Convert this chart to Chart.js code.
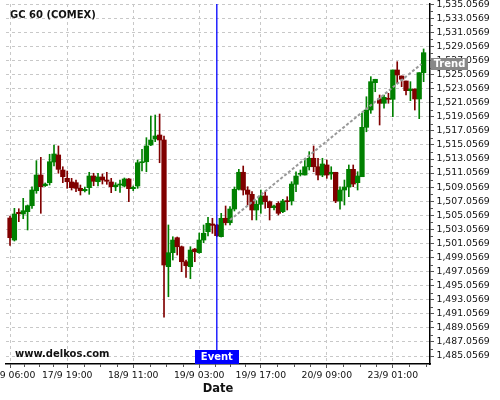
<!DOCTYPE html>
<html>
<head>
<meta charset="utf-8">
<script src="https://cdn.jsdelivr.net/npm/chart.js@4.4.0/dist/chart.umd.min.js"></script>
<style>
  body { margin: 0; background: #fff; }
  #chart { display: block; }
</style>
</head>
<body>
<canvas id="chart" width="500" height="400"></canvas>
<script>
// hourly candles, index 0 = 17/9 06:00
var open = [1504.67, 1501.54, 1505.48, 1505.24, 1505.57, 1506.42, 1508.55, 1510.78, 1509.26, 1509.69,
    1512.63, 1513.63, 1511.49, 1510.31, 1509.79, 1509.69, 1508.89, 1508.55, 1508.98, 1510.64,
    1509.83, 1510.50, 1510.07, 1509.79, 1509.12, 1509.36, 1509.22, 1510.22, 1508.84, 1509.22,
    1512.53, 1512.67, 1515.05, 1515.90, 1516.47, 1515.76, 1497.75, 1499.74, 1501.87, 1500.59,
    1498.46, 1497.75, 1500.26, 1499.74, 1501.54, 1502.72, 1503.82, 1503.68, 1502.02, 1504.63,
    1504.00, 1505.95, 1508.75, 1511.17, 1508.65, 1508.04, 1505.81, 1506.62, 1507.80, 1506.99,
    1506.14, 1506.76, 1505.57, 1507.09, 1507.09, 1509.46, 1510.88, 1510.78, 1511.96, 1513.16,
    1511.96, 1510.78, 1512.21, 1510.93, 1511.17, 1507.09, 1508.65, 1509.08, 1511.59, 1509.69,
    1510.54, 1517.56, 1520.02, 1523.91, 1521.59, 1520.98, 1521.69, 1521.54, 1525.71, 1524.86,
    1524.15, 1522.77, 1523.01, 1521.59, 1525.33];
var high = [1504.96, 1506.05, 1505.99, 1507.47, 1506.52, 1509.12, 1512.82, 1513.30, 1509.65, 1513.73,
    1515.05, 1514.91, 1511.96, 1511.35, 1510.31, 1510.07, 1509.36, 1509.07, 1511.17, 1511.03,
    1511.03, 1510.93, 1511.17, 1510.31, 1509.69, 1510.07, 1510.36, 1510.29, 1509.22, 1512.92,
    1514.44, 1516.09, 1519.17, 1519.31, 1519.45, 1516.33, 1503.68, 1502.01, 1501.97, 1500.69,
    1498.70, 1500.59, 1500.34, 1502.54, 1503.68, 1504.77, 1504.63, 1503.75, 1505.34, 1506.38,
    1506.28, 1509.08, 1511.59, 1512.06, 1509.12, 1508.41, 1507.13, 1508.65, 1508.41, 1507.09,
    1506.52, 1506.99, 1507.33, 1507.70, 1509.83, 1511.25, 1511.49, 1513.16, 1514.10, 1514.91,
    1513.16, 1513.16, 1512.92, 1511.96, 1511.17, 1509.12, 1510.07, 1512.21, 1512.21, 1511.25,
    1519.60, 1521.91, 1524.76, 1524.39, 1522.16, 1522.16, 1522.40, 1525.71, 1526.89, 1524.86,
    1524.15, 1524.05, 1523.01, 1525.33, 1528.70];
var low = [1500.76, 1501.40, 1504.15, 1504.57, 1502.97, 1506.05, 1508.18, 1505.34, 1509.15, 1509.36,
    1512.06, 1511.03, 1509.69, 1508.89, 1508.65, 1508.41, 1507.94, 1508.37, 1508.04, 1509.26,
    1509.22, 1509.50, 1509.46, 1508.27, 1508.55, 1508.32, 1509.08, 1506.99, 1508.55, 1508.89,
    1511.35, 1511.25, 1514.96, 1515.52, 1512.53, 1490.56, 1493.48, 1498.70, 1499.41, 1497.04,
    1496.24, 1496.04, 1498.46, 1499.65, 1501.16, 1502.11, 1502.49, 1502.02, 1501.97, 1503.68,
    1503.68, 1505.67, 1508.65, 1507.94, 1506.52, 1504.39, 1504.39, 1505.34, 1506.05, 1504.39,
    1505.81, 1505.10, 1505.43, 1505.81, 1506.52, 1508.41, 1510.64, 1510.78, 1511.49, 1511.25,
    1510.07, 1510.54, 1510.31, 1510.17, 1506.85, 1505.91, 1506.52, 1507.70, 1509.12, 1508.65,
    1510.54, 1516.93, 1519.55, 1522.62, 1517.89, 1520.27, 1520.98, 1519.07, 1523.82, 1523.34,
    1522.16, 1521.35, 1520.02, 1518.79, 1524.05];
var close = [1501.87, 1505.24, 1505.28, 1505.71, 1506.42, 1508.65, 1510.78, 1509.12, 1509.50, 1512.67,
    1513.77, 1511.59, 1510.54, 1509.83, 1508.98, 1508.89, 1508.55, 1508.75, 1510.64, 1509.89,
    1510.50, 1510.07, 1509.89, 1509.12, 1509.36, 1509.50, 1510.22, 1508.84, 1509.03, 1512.53,
    1512.67, 1514.91, 1515.76, 1516.33, 1515.76, 1497.99, 1499.74, 1501.54, 1500.59, 1498.46,
    1497.89, 1500.12, 1499.88, 1501.54, 1502.50, 1503.92, 1503.63, 1502.16, 1504.63, 1504.00,
    1505.95, 1508.75, 1511.17, 1508.65, 1508.04, 1505.81, 1506.62, 1507.80, 1506.99, 1506.14,
    1506.38, 1505.34, 1507.09, 1506.99, 1509.50, 1510.64, 1511.03, 1511.96, 1513.16, 1511.96,
    1510.78, 1512.35, 1510.78, 1511.17, 1507.09, 1508.65, 1509.08, 1511.59, 1509.50, 1510.64,
    1517.56, 1520.02, 1524.05, 1524.39, 1520.98, 1521.83, 1521.54, 1525.71, 1525.00, 1524.39,
    1522.77, 1523.01, 1521.59, 1525.33, 1528.17];

var xTickIdx = [0, 13, 28, 43, 57, 72, 87];
var xTickLabels = ['17/9 06:00', '17/9 19:00', '18/9 11:00', '19/9 03:00', '19/9 17:00', '20/9 09:00', '23/9 01:00'];
var yTicks = [1485.0569, 1487.0569, 1489.0569, 1491.0569, 1493.0569, 1495.0569, 1497.0569, 1499.0569,
    1501.0569, 1503.0569, 1505.0569, 1507.0569, 1509.0569, 1511.0569, 1513.0569, 1515.0569, 1517.0569,
    1519.0569, 1521.0569, 1523.0569, 1525.0569, 1527.0569, 1529.0569, 1531.0569, 1533.0569, 1535.0569];

var eventIdx = 47;
var trendX = [50, 93.5];
var trendY = [1504.39, 1526.56];

var FONT = "'DejaVu Sans', sans-serif";
var UP = '#008000', DOWN = '#800000';

var idx = open.map(function (v, i) { return i; });
var colors = idx.map(function (i) { return close[i] >= open[i] ? UP : DOWN; });

function fmt(v) {
    return v.toLocaleString('en-US', {minimumFractionDigits: 4, maximumFractionDigits: 4});
}

// event line, minor ticks and the text boxes
var overlay = {
    id: 'overlay',
    afterDatasetsDraw: function (chart) {
        var ctx = chart.ctx, a = chart.chartArea;
        var ex = chart.scales.x.getPixelForValue(eventIdx);
        ctx.save();
        ctx.strokeStyle = '#0000ff';
        ctx.lineWidth = 1.3;
        ctx.setLineDash([]);
        ctx.beginPath();
        ctx.moveTo(ex, a.top);
        ctx.lineTo(ex, a.bottom);
        ctx.stroke();
        ctx.restore();
    },
    afterDraw: function (chart) {
        var ctx = chart.ctx, a = chart.chartArea;
        var xs = chart.scales.x, ys = chart.scales.y;
        ctx.save();

        // minor ticks
        ctx.strokeStyle = '#555';
        ctx.lineWidth = 1;
        ctx.beginPath();
        for (var i = 0; i < xTickIdx.length; i++) {
            var step = (i < xTickIdx.length - 1 ? xTickIdx[i + 1] - xTickIdx[i] : 15) / 4;
            for (var k = 1; k < 4; k++) {
                var px = Math.round(xs.getPixelForValue(xTickIdx[i] + k * step)) + 0.5;
                if (px > a.right) break;
                ctx.moveTo(px, a.bottom);
                ctx.lineTo(px, a.bottom + 3);
            }
        }
        for (var j = 0; j < yTicks.length - 1; j++) {
            var py = Math.round(ys.getPixelForValue(yTicks[j] + 1)) + 0.5;
            ctx.moveTo(a.right, py);
            ctx.lineTo(a.right + 3, py);
        }
        ctx.stroke();

        // labels
        ctx.font = 'bold 10px ' + FONT;
        ctx.textBaseline = 'middle';
        ctx.fillStyle = '#111';
        ctx.textAlign = 'left';
        ctx.fillText('GC 60 (COMEX)', 10, 15.5);
        ctx.fillText('www.delkos.com', 15, 354);

        var ex = xs.getPixelForValue(eventIdx);
        ctx.fillStyle = '#0000ff';
        ctx.fillRect(Math.round(ex) - 22, a.bottom - 14, 44, 14);
        ctx.fillStyle = '#fff';
        ctx.textAlign = 'center';
        ctx.fillText('Event', ex, a.bottom - 6.5);

        var ty = ys.getPixelForValue(trendY[1]);
        ctx.fillStyle = '#888';
        ctx.fillRect(a.right + 1, Math.round(ty) - 6, 37, 12);
        ctx.fillStyle = '#fff';
        ctx.fillText('Trend', a.right + 19.5, ty + 0.5);
        ctx.restore();
    }
};

new Chart(document.getElementById('chart'), {
    type: 'bar',
    data: {
        datasets: [{
            type: 'line',
            label: 'Trend',
            data: trendX.map(function (v, i) { return {x: v, y: trendY[i]}; }),
            borderColor: '#999',
            borderWidth: 2,
            borderDash: [3, 2],
            pointRadius: 0,
            fill: false,
            order: 1
        }, {
            label: 'Body',
            data: idx.map(function (i) { return {x: i, y: [open[i], close[i]]}; }),
            backgroundColor: colors,
            borderWidth: 0,
            barThickness: 4.6,
            minBarLength: 1,
            grouped: false,
            order: 2
        }, {
            label: 'Wick',
            data: idx.map(function (i) { return {x: i, y: [low[i], high[i]]}; }),
            backgroundColor: colors,
            borderWidth: 0,
            barThickness: 1,
            grouped: false,
            order: 3
        }]
    },
    options: {
        responsive: false,
        animation: false,
        layout: {padding: {left: 6, top: 4, right: 0, bottom: 0}},
        plugins: {
            legend: {display: false},
            tooltip: {enabled: false}
        },
        scales: {
            x: {
                type: 'linear',
                min: -0.91,
                max: 95.45,
                offset: false,
                afterBuildTicks: function (s) {
                    s.ticks = xTickIdx.map(function (v) { return {value: v}; });
                },
                afterFit: function (s) {
                    s.height = 36;
                    s.paddingLeft = 0;
                    s.paddingRight = 0;
                },
                ticks: {
                    autoSkip: false,
                    maxRotation: 0,
                    padding: 2,
                    color: '#111',
                    font: {family: FONT, size: 9.3},
                    callback: function (v) { return xTickLabels[xTickIdx.indexOf(v)]; }
                },
                grid: {offset: false, color: '#c8c8c8', tickLength: 4, tickColor: '#555', tickBorderDash: []},
                border: {display: true, color: '#000', width: 1.5, dash: [3, 3]},
                title: {
                    display: true,
                    text: 'Date',
                    color: '#111',
                    font: {family: FONT, size: 11.5, weight: 'bold'},
                    padding: {top: 0, bottom: 4}
                }
            },
            y: {
                position: 'right',
                min: 1483.92,
                max: 1535.09,
                afterBuildTicks: function (s) {
                    s.ticks = yTicks.map(function (v) { return {value: v}; });
                },
                afterFit: function (s) {
                    s.width = 70;
                    s.paddingTop = 0;
                    s.paddingBottom = 0;
                },
                ticks: {
                    padding: 2.5,
                    color: '#111',
                    font: {family: FONT, size: 9.3},
                    callback: function (v) { return fmt(v); }
                },
                grid: {color: '#c8c8c8', tickLength: 4, tickColor: '#555', tickBorderDash: []},
                border: {display: true, color: '#000', width: 1.5, dash: [3, 3]}
            }
        }
    },
    plugins: [overlay]
});
</script>
</body>
</html>
